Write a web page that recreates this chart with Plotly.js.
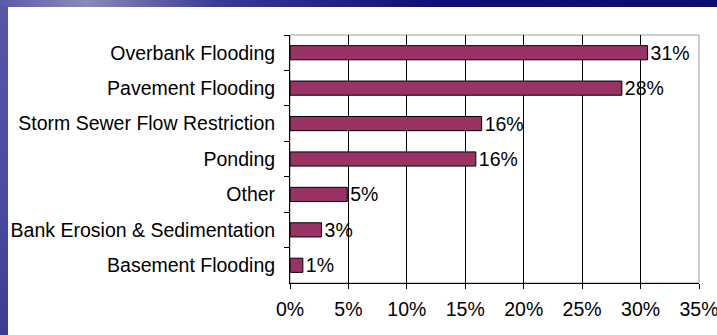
<!DOCTYPE html>
<html>
<head>
<meta charset="utf-8">
<script src="https://cdn.plot.ly/plotly-3.0.1.min.js"></script>
<style>
  html, body { margin: 0; padding: 0; }
  body {
    width: 717px; height: 335px; overflow: hidden; position: relative;
    background: linear-gradient(90deg, #5a5aae 0%, #8a8ab8 12%, #3a3a98 30%, #0e0e78 60%, #0c0c6e 100%);
  }
  #white { position: absolute; left: 8px; top: 7px; width: 709px; height: 328px; background: #ffffff; }
  #leftstrip { position: absolute; left: 0; top: 7px; width: 8px; height: 328px;
    background: linear-gradient(180deg, #5656aa 0%, #4a4aa2 60%, #3c3c92 100%); }
  #chart { position: absolute; left: 0; top: 0; width: 717px; height: 335px; }
</style>
</head>
<body>
<div id="leftstrip"></div>
<div id="white"></div>
<div id="chart"></div>
<script>
const categories = [
  "Overbank Flooding",
  "Pavement Flooding",
  "Storm Sewer Flow Restriction",
  "Ponding",
  "Other",
  "Bank Erosion & Sedimentation",
  "Basement Flooding"
];
const values = [30.6, 28.4, 16.4, 15.9, 4.9, 2.7, 1.1];
const xTickVals = [0, 5, 10, 15, 20, 25, 30, 35];
const xTickText = ["0%", "5%", "10%", "15%", "20%", "25%", "30%", "35%"];

const fontFam = "Liberation Sans, Arial, sans-serif";
const fs = 19.5;

const trace = {
  type: "bar",
  orientation: "h",
  y: categories,
  x: values,
  marker: { color: "#993366", line: { color: "#000000", width: 1 } },
  width: 0.4,
  texttemplate: "%{x:.0f}%",
  textposition: "outside",
  constraintext: "none",
  textfont: { family: fontFam, size: fs, color: "#000000" },
  cliponaxis: false,
  hoverinfo: "none"
};

const layout = {
  width: 717, height: 335,
  paper_bgcolor: "rgba(0,0,0,0)",
  plot_bgcolor: "rgba(0,0,0,0)",
  margin: { l: 290, r: 18, t: 35, b: 52, pad: 0 },
  showlegend: false,
  font: { family: fontFam, size: fs, color: "#000000" },
  xaxis: {
    range: [0, 35],
    tickvals: xTickVals,
    ticktext: xTickText,
    showgrid: true,
    gridcolor: "#000000",
    gridwidth: 1,
    zeroline: false,
    showline: true,
    linecolor: "#000000",
    linewidth: 1,
    ticks: "outside",
    ticklen: 5,
    tickcolor: "#000000",
    ticklabelstandoff: 4,
    ticklabeloverflow: "allow",
    tickfont: { family: fontFam, size: fs, color: "#000000" },
    fixedrange: true
  },
  yaxis: {
    autorange: "reversed",
    type: "category",
    showgrid: false,
    zeroline: false,
    showline: true,
    linecolor: "#000000",
    linewidth: 1,
    ticks: "outside",
    tickson: "boundaries",
    ticklen: 5,
    tickcolor: "#000000",
    ticklabelstandoff: 10,
    tickfont: { family: fontFam, size: fs, color: "#000000" },
    fixedrange: true
  },
  shapes: [{
    type: "rect", xref: "paper", yref: "paper",
    x0: 0, x1: 1, y0: 0, y1: 1,
    line: { color: "#9a9a9a", width: 1 },
    layer: "below"
  }]
};

Plotly.newPlot("chart", [trace], layout, { staticPlot: true, displayModeBar: false });
</script>
</body>
</html>
